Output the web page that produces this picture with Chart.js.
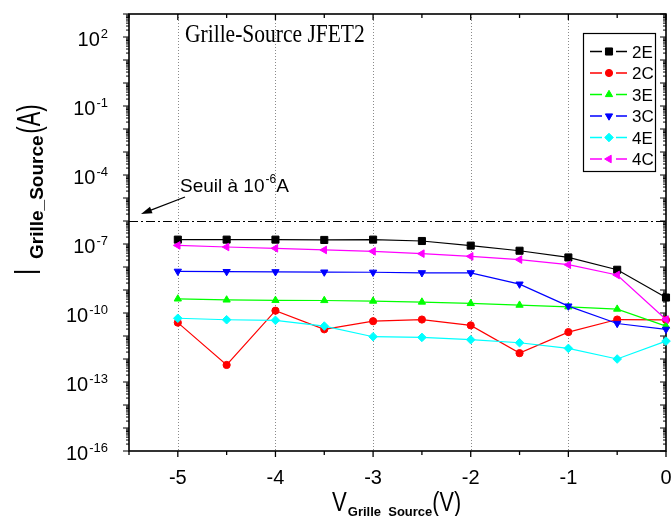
<!DOCTYPE html>
<html><head><meta charset="utf-8">
<script src="https://cdn.jsdelivr.net/npm/chart.js@4.4.0/dist/chart.umd.min.js"></script>
<style>html,body{margin:0;padding:0;background:#fff;}</style>
</head><body>
<canvas id="c" width="672" height="516"></canvas>
<script>
// ---- data ----
const vgs = [-5, -4.5, -4, -3.5, -3, -2.5, -2, -1.5, -1, -0.5, 0];
const i2E = [1.55e-7, 1.55e-7, 1.55e-7, 1.5e-7, 1.55e-7, 1.35e-7, 8.5e-8, 5.1e-8, 2.6e-8, 7.6e-9, 4.7e-10];
const i2C = [3.8e-11, 5.5e-13, 1.26e-10, 1.95e-11, 4.4e-11, 5.2e-11, 2.9e-11, 1.8e-12, 1.48e-11, 5.2e-11, 5.0e-11];
const i3E = [4.1e-10, 3.7e-10, 3.55e-10, 3.5e-10, 3.3e-10, 3.0e-10, 2.6e-10, 2.2e-10, 1.86e-10, 1.48e-10, 2.7e-11];
const i3C = [6.5e-9, 6.3e-9, 6.2e-9, 6.0e-9, 5.9e-9, 5.6e-9, 5.6e-9, 1.8e-9, 2.0e-10, 3.5e-11, 1.95e-11];
const i4E = [5.9e-11, 5.1e-11, 4.8e-11, 2.7e-11, 9.3e-12, 8.7e-12, 6.9e-12, 5.1e-12, 2.9e-12, 1.0e-12, 6.0e-12];
const i4C = [8.7e-8, 7.4e-8, 6.5e-8, 5.5e-8, 4.8e-8, 3.8e-8, 2.9e-8, 2.1e-8, 1.26e-8, 4.5e-9, 5.2e-11];
const seriesNames = ['2E', '2C', '3E', '3C', '4E', '4C'];
const seriesValues = [i2E, i2C, i3E, i3C, i4E, i4C];
const seriesColors = ['#000000', '#ff0000', '#00ff00', '#0000ff', '#00ffff', '#ff00ff'];
const seriesStyles = ['rect', 'circle', 'triangle', 'triangle', 'rectRot', 'triangle'];
const seriesRotations = [0, 0, 0, 180, 0, 270];
const seriesRadius = [5, 3.6, 4.2, 4.2, 4.3, 4.4];
const xMajorTicks = [-5, -4, -3, -2, -1, 0];
const xTickLabels = ['-5', '-4', '-3', '-2', '-1', '0'];
const xMinorTicks = [-5.5, -4.5, -3.5, -2.5, -1.5, -0.5];
const yLabelExponents = [2, -1, -4, -7, -10, -13, -16];
const threshold = 1e-6;
const chartTitle = 'Grille-Source JFET2';
const annotationText = 'Seuil à 10';
const annotationExp = '-6';
const annotationUnit = 'A';

const SANS = '"Liberation Sans", Arial, sans-serif';
const SERIF = '"Liberation Serif", "Times New Roman", serif';

function drawMarker(ctx, style, rot, r, x, y, color) {
  ctx.save();
  ctx.fillStyle = color; ctx.strokeStyle = color; ctx.lineWidth = 1;
  Chart.helpers.drawPoint(ctx, {pointStyle: style, rotation: rot, radius: r, borderWidth: 1}, x, y);
  ctx.restore();
}

const deco = {
  id: 'deco',
  beforeDatasetsDraw(chart) {
    const {ctx, chartArea: a, scales: {x, y}} = chart;
    ctx.save();
    // dotted vertical grid
    ctx.strokeStyle = '#8a8a8a'; ctx.lineWidth = 1; ctx.setLineDash([1, 2]);
    for (const v of xMajorTicks) {
      if (v === 0) continue;
      const px = Math.round(x.getPixelForValue(v)) + 0.5;
      ctx.beginPath(); ctx.moveTo(px, a.top); ctx.lineTo(px, a.bottom); ctx.stroke();
    }
    // threshold dash-dot line
    ctx.strokeStyle = '#000'; ctx.setLineDash([9, 3, 2, 3]);
    const ty = Math.round(y.getPixelForValue(threshold)) + 0.5;
    ctx.beginPath(); ctx.moveTo(a.left, ty); ctx.lineTo(a.right, ty); ctx.stroke();
    ctx.setLineDash([]);
    // frame
    ctx.lineWidth = 1.6; ctx.strokeStyle = '#000';
    ctx.strokeRect(a.left, a.top, a.right - a.left, a.bottom - a.top);
    // x ticks
    ctx.lineWidth = 1.3;
    const tick = (x1, y1, x2, y2) => { ctx.beginPath(); ctx.moveTo(x1, y1); ctx.lineTo(x2, y2); ctx.stroke(); };
    for (const v of xMajorTicks) {
      const px = x.getPixelForValue(v);
      tick(px, a.bottom, px, a.bottom + 6);
      tick(px, a.top, px, a.top + 6);
    }
    for (const v of xMinorTicks) {
      const px = x.getPixelForValue(v);
      tick(px, a.bottom, px, a.bottom + 4);
      tick(px, a.top, px, a.top + 4);
    }
    // y ticks (log)
    ctx.lineWidth = 1;
    for (let e = -16; e <= 3; e++) {
      for (let k = 1; k <= 9; k++) {
        const v = k * Math.pow(10, e);
        if (v > 1.0001e3) continue;
        const py = y.getPixelForValue(v);
        const len = k === 1 ? 6 : 3;
        tick(a.left - len, py, a.left, py);
        tick(a.right - len, py, a.right, py);
      }
    }
    ctx.restore();
  },
  afterDatasetsDraw(chart) {
    const {ctx, chartArea: a, scales: {x, y}} = chart;
    ctx.save();
    ctx.fillStyle = '#000';
    // x tick labels
    ctx.font = '20px ' + SANS; ctx.textAlign = 'center'; ctx.textBaseline = 'alphabetic';
    xMajorTicks.forEach((v, i) => ctx.fillText(xTickLabels[i], x.getPixelForValue(v), 484));
    // y tick labels with superscripts
    const rightEdge = 108;
    for (const e of yLabelExponents) {
      const py = y.getPixelForValue(Math.pow(10, e));
      ctx.font = '13px ' + SANS;
      const es = String(e);
      const ew = ctx.measureText(es).width;
      ctx.textAlign = 'left';
      ctx.fillText(es, rightEdge - ew, py + 1);
      ctx.font = '20px ' + SANS;
      const bw = ctx.measureText('10').width;
      ctx.fillText('10', rightEdge - ew - bw - 1, py + 9);
    }
    // title
    ctx.save();
    ctx.font = '25px ' + SERIF; ctx.textAlign = 'left';
    ctx.translate(185, 42); ctx.scale(0.86, 1);
    ctx.fillText(chartTitle, 0, 0);
    ctx.restore();
    // x axis title: V_{Grille_Source}(V)
    ctx.save();
    ctx.textAlign = 'left';
    let cx = 332;
    ctx.font = '27px ' + SANS;
    ctx.save(); ctx.translate(cx, 511); ctx.scale(0.82, 1); ctx.fillText('V', 0, 0); ctx.restore();
    cx += ctx.measureText('V').width * 0.82 + 1;
    ctx.font = 'bold 13px ' + SANS;
    ctx.fillText('Grille_Source', cx, 516);
    cx += ctx.measureText('Grille_Source').width;
    ctx.font = '27px ' + SANS;
    ctx.save(); ctx.translate(cx, 511); ctx.scale(0.8, 1); ctx.fillText('(V)', 0, 0); ctx.restore();
    ctx.restore();
    // y axis title rotated: I_{Grille_Source}(A)
    ctx.save();
    ctx.translate(40, 275); ctx.rotate(-Math.PI / 2);
    ctx.textAlign = 'left';
    ctx.font = '36px ' + SANS;
    ctx.save(); ctx.scale(0.62, 1); ctx.fillText('I', 0, 0); ctx.restore();
    let cy = 16;
    ctx.font = 'bold 19px ' + SANS;
    ctx.fillText('Grille_Source', cy, 3);
    cy += ctx.measureText('Grille_Source').width + 2;
    ctx.font = '34px ' + SANS;
    ctx.save(); ctx.translate(cy, 0); ctx.scale(0.64, 1); ctx.fillText('(A)', 0, 0); ctx.restore();
    ctx.restore();
    // annotation text + arrow
    ctx.textAlign = 'left';
    ctx.font = '19px ' + SANS;
    let ax = 180;
    ctx.fillText(annotationText, ax, 192);
    ax += ctx.measureText(annotationText).width + 1;
    ctx.font = '12px ' + SANS;
    ctx.fillText(annotationExp, ax, 183);
    ax += ctx.measureText(annotationExp).width;
    ctx.font = '19px ' + SANS;
    ctx.fillText(annotationUnit, ax, 192);
    const x1 = 185, y1 = 197, x2 = 141, y2 = 214;
    ctx.strokeStyle = '#000'; ctx.lineWidth = 1.3;
    ctx.beginPath(); ctx.moveTo(x1, y1); ctx.lineTo(x2 + 6, y2 - 2.3); ctx.stroke();
    const ang = Math.atan2(y2 - y1, x2 - x1);
    ctx.beginPath();
    ctx.moveTo(x2, y2);
    ctx.lineTo(x2 - 11 * Math.cos(ang) + 3.5 * Math.sin(ang), y2 - 11 * Math.sin(ang) - 3.5 * Math.cos(ang));
    ctx.lineTo(x2 - 11 * Math.cos(ang) - 3.5 * Math.sin(ang), y2 - 11 * Math.sin(ang) + 3.5 * Math.cos(ang));
    ctx.closePath(); ctx.fill();
    // legend
    ctx.strokeStyle = '#000'; ctx.lineWidth = 1.2;
    ctx.strokeRect(583.5, 33.5, 72, 138);
    seriesNames.forEach((n, i) => {
      const ry = 51.5 + i * 21.5;
      ctx.strokeStyle = seriesColors[i]; ctx.lineWidth = 1.3;
      ctx.beginPath(); ctx.moveTo(590, ry); ctx.lineTo(602, ry); ctx.moveTo(616, ry); ctx.lineTo(627, ry); ctx.stroke();
      drawMarker(ctx, seriesStyles[i], seriesRotations[i], seriesRadius[i], 609, ry, seriesColors[i]);
      ctx.fillStyle = '#000'; ctx.font = '17px ' + SANS; ctx.textAlign = 'left';
      ctx.fillText(n, 632, ry + 6);
    });
    ctx.restore();
  }
};

const datasets = seriesNames.map((n, i) => ({
  label: n,
  data: vgs.map((v, j) => ({x: v, y: seriesValues[i][j]})),
  borderColor: seriesColors[i],
  backgroundColor: seriesColors[i],
  borderWidth: 1.2,
  pointStyle: seriesStyles[i],
  pointRotation: seriesRotations[i],
  pointRadius: seriesRadius[i],
  pointBorderWidth: 1,
  pointBackgroundColor: seriesColors[i],
  pointBorderColor: seriesColors[i],
  showLine: true,
  tension: 0,
  clip: false,
  order: 6 - i
}));

new Chart(document.getElementById('c'), {
  type: 'line',
  data: {datasets},
  options: {
    responsive: false,
    animation: false,
    devicePixelRatio: 1,
    layout: {padding: {left: 129, right: 4, top: 14, bottom: 65}},
    plugins: {legend: {display: false}, tooltip: {enabled: false}},
    scales: {
      x: {type: 'linear', min: -5.5, max: 0, display: false},
      y: {type: 'logarithmic', min: 1e-16, max: 1e3, display: false}
    }
  },
  plugins: [deco]
});
</script>
</body></html>
